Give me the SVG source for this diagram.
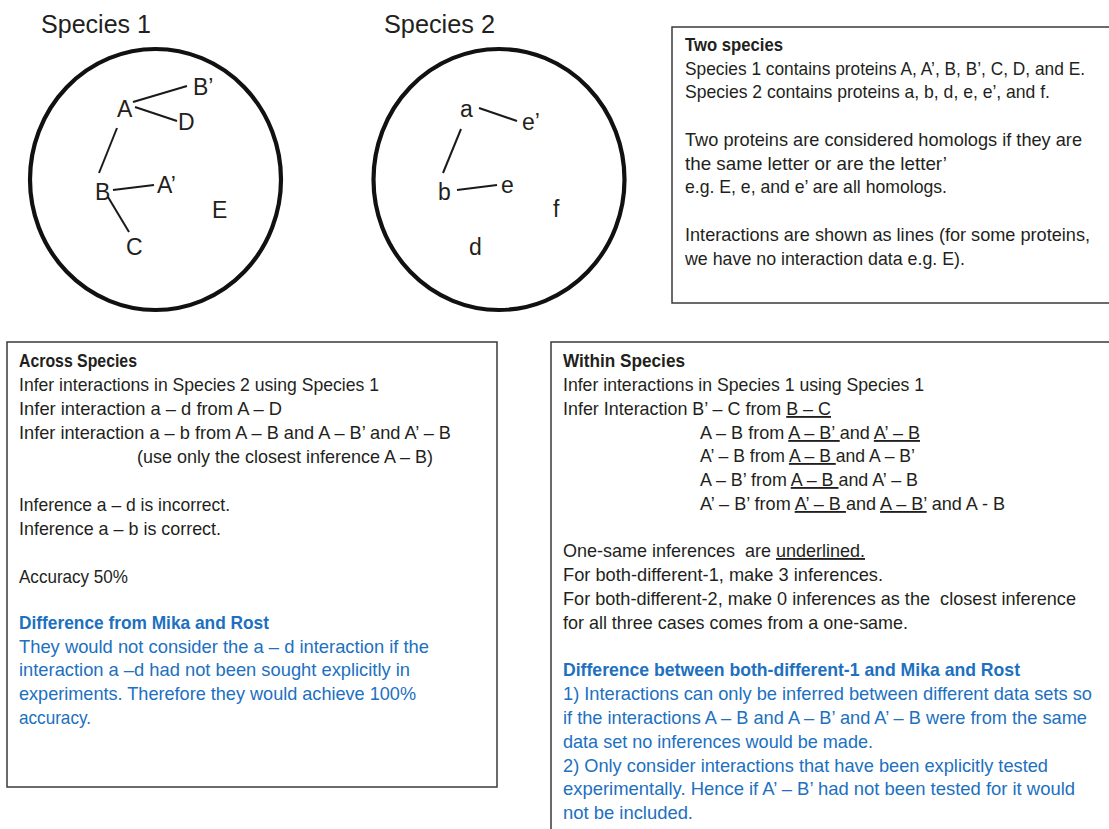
<svg xmlns="http://www.w3.org/2000/svg" width="1109" height="829" viewBox="0 0 1109 829">
<style>
  .t { font-family: "Liberation Sans", Arial, sans-serif; font-size: 18.5px; fill: #231f20; }
  .b { font-weight: bold; }
  .blue { fill: #2070bf; }
  .u { text-decoration: underline; }
  .lbl { font-family: "Liberation Sans", Arial, sans-serif; font-size: 23px; fill: #231f20; }
  .title { font-family: "Liberation Sans", Arial, sans-serif; font-size: 26px; fill: #231f20; }
  .ring { fill: none; stroke: #111; stroke-width: 4.2; }
  .edge { stroke: #1a1a1a; stroke-width: 2; fill: none; }
  .box { fill: #fff; stroke: #3a3a3a; stroke-width: 1.5; }
</style>
<rect width="1109" height="829" fill="#fff"/>

<g id="species1">
  <text class="title" x="41" y="33" textLength="110" lengthAdjust="spacingAndGlyphs">Species 1</text>
  <ellipse class="ring" cx="155.5" cy="179.5" rx="125.5" ry="130.5"/>
</g>
<g id="species2">
  <text class="title" x="384" y="33" textLength="111" lengthAdjust="spacingAndGlyphs">Species 2</text>
  <ellipse class="ring" cx="499" cy="179.5" rx="125.5" ry="130.5"/>
</g>

<g id="connectors">
  <line class="edge" x1="133" y1="102" x2="187" y2="86"/>
  <line class="edge" x1="135" y1="107" x2="177" y2="121"/>
  <line class="edge" x1="117" y1="128" x2="99" y2="173"/>
  <line class="edge" x1="113" y1="190" x2="154" y2="185"/>
  <line class="edge" x1="108" y1="197" x2="129" y2="232"/>
  <line class="edge" x1="479" y1="108" x2="517" y2="121"/>
  <line class="edge" x1="461" y1="129" x2="443" y2="173"/>
  <line class="edge" x1="457" y1="190" x2="497" y2="185"/>
</g>

<g id="node-A"><text class="lbl" x="117" y="117">A</text></g>
<g id="node-Bp"><text class="lbl" x="193" y="95">B’</text></g>
<g id="node-D"><text class="lbl" x="178" y="130">D</text></g>
<g id="node-B"><text class="lbl" x="95" y="200">B</text></g>
<g id="node-Ap"><text class="lbl" x="157" y="193">A’</text></g>
<g id="node-E"><text class="lbl" x="212" y="218">E</text></g>
<g id="node-C"><text class="lbl" x="126" y="255">C</text></g>

<g id="node-a"><text class="lbl" x="460" y="117">a</text></g>
<g id="node-ep"><text class="lbl" x="522" y="130">e’</text></g>
<g id="node-b"><text class="lbl" x="438" y="200">b</text></g>
<g id="node-e"><text class="lbl" x="501" y="193">e</text></g>
<g id="node-f"><text class="lbl" x="553" y="217">f</text></g>
<g id="node-d"><text class="lbl" x="469" y="255">d</text></g>

<g id="box-two-species">
  <rect class="box" x="672" y="27" width="500" height="276"/>
  <text class="t b" x="685" y="51" textLength="98" lengthAdjust="spacingAndGlyphs">Two species</text>
  <text class="t" x="685" y="75" textLength="400" lengthAdjust="spacingAndGlyphs">Species 1 contains proteins A, A’, B, B’, C, D, and E.</text>
  <text class="t" x="685" y="98" textLength="365" lengthAdjust="spacingAndGlyphs">Species 2 contains proteins a, b, d, e, e’, and f.</text>
  <text class="t" x="685" y="146" textLength="397" lengthAdjust="spacingAndGlyphs">Two proteins are considered homologs if they are</text>
  <text class="t" x="685" y="170" textLength="262" lengthAdjust="spacingAndGlyphs">the same letter or are the letter’</text>
  <text class="t" x="685" y="193" textLength="262" lengthAdjust="spacingAndGlyphs">e.g. E, e, and e’ are all homologs.</text>
  <text class="t" x="685" y="241" textLength="405" lengthAdjust="spacingAndGlyphs">Interactions are shown as lines (for some proteins,</text>
  <text class="t" x="685" y="265" textLength="280" lengthAdjust="spacingAndGlyphs">we have no interaction data e.g. E).</text>
</g>

<g id="box-across">
  <rect class="box" x="7" y="342" width="490" height="445"/>
  <text class="t b" x="19" y="367" textLength="118" lengthAdjust="spacingAndGlyphs">Across Species</text>
  <text class="t" x="19" y="391" textLength="360" lengthAdjust="spacingAndGlyphs">Infer interactions in Species 2 using Species 1</text>
  <text class="t" x="19" y="415" textLength="263" lengthAdjust="spacingAndGlyphs">Infer interaction a – d from A – D</text>
  <text class="t" x="19" y="439" textLength="432" lengthAdjust="spacingAndGlyphs">Infer interaction a – b from A – B and A – B’ and A’ – B</text>
  <text class="t" x="137" y="463" textLength="296" lengthAdjust="spacingAndGlyphs">(use only the closest inference A – B)</text>
  <text class="t" x="19" y="511" textLength="211" lengthAdjust="spacingAndGlyphs">Inference a – d is incorrect.</text>
  <text class="t" x="19" y="535" textLength="202" lengthAdjust="spacingAndGlyphs">Inference a – b is correct.</text>
  <text class="t" x="19" y="583" textLength="109" lengthAdjust="spacingAndGlyphs">Accuracy 50%</text>
  <text class="t b blue" x="19" y="629" textLength="250" lengthAdjust="spacingAndGlyphs">Difference from Mika and Rost</text>
  <text class="t blue" x="19" y="653" textLength="410" lengthAdjust="spacingAndGlyphs">They would not consider the a – d interaction if the</text>
  <text class="t blue" x="19" y="676" textLength="391" lengthAdjust="spacingAndGlyphs">interaction a –d had not been sought explicitly in</text>
  <text class="t blue" x="19" y="700" textLength="397" lengthAdjust="spacingAndGlyphs">experiments. Therefore they would achieve 100%</text>
  <text class="t blue" x="19" y="724" textLength="72" lengthAdjust="spacingAndGlyphs">accuracy.</text>
</g>

<g id="box-within">
  <rect class="box" x="551" y="342" width="600" height="520"/>
  <text class="t b" x="563" y="367" textLength="122" lengthAdjust="spacingAndGlyphs">Within Species</text>
  <text class="t" x="563" y="391" textLength="361" lengthAdjust="spacingAndGlyphs">Infer interactions in Species 1 using Species 1</text>
  <text class="t" x="563" y="415" textLength="268" lengthAdjust="spacingAndGlyphs" xml:space="preserve">Infer Interaction B’ – C from <tspan class="u">B – C</tspan></text>
  <text class="t" x="700" y="439" textLength="220" lengthAdjust="spacingAndGlyphs" xml:space="preserve">A – B from <tspan class="u">A – B’ </tspan>and <tspan class="u">A’ – B</tspan></text>
  <text class="t" x="700" y="462" textLength="215" lengthAdjust="spacingAndGlyphs" xml:space="preserve">A’ – B from <tspan class="u">A – B </tspan>and A – B’</text>
  <text class="t" x="700" y="486" textLength="218" lengthAdjust="spacingAndGlyphs" xml:space="preserve">A – B’ from <tspan class="u">A – B </tspan>and A’ – B</text>
  <text class="t" x="700" y="510" textLength="305" lengthAdjust="spacingAndGlyphs" xml:space="preserve">A’ – B’ from <tspan class="u">A’ – B </tspan>and <tspan class="u">A – B’</tspan> and A - B</text>
  <text class="t" x="563" y="557" textLength="302" lengthAdjust="spacingAndGlyphs" xml:space="preserve">One-same inferences  are <tspan class="u">underlined.</tspan></text>
  <text class="t" x="563" y="581" textLength="320" lengthAdjust="spacingAndGlyphs">For both-different-1, make 3 inferences.</text>
  <text class="t" x="563" y="605" textLength="513" lengthAdjust="spacingAndGlyphs" xml:space="preserve">For both-different-2, make 0 inferences as the  closest inference</text>
  <text class="t" x="563" y="629" textLength="345" lengthAdjust="spacingAndGlyphs">for all three cases comes from a one-same.</text>
  <text class="t b blue" x="563" y="676" textLength="457" lengthAdjust="spacingAndGlyphs">Difference between both-different-1 and Mika and Rost</text>
  <text class="t blue" x="563" y="700" textLength="529" lengthAdjust="spacingAndGlyphs">1) Interactions can only be inferred between different data sets so</text>
  <text class="t blue" x="563" y="724" textLength="524" lengthAdjust="spacingAndGlyphs">if the interactions A – B and A – B’ and A’ – B were from the same</text>
  <text class="t blue" x="563" y="748" textLength="310" lengthAdjust="spacingAndGlyphs">data set no inferences would be made.</text>
  <text class="t blue" x="563" y="772" textLength="485" lengthAdjust="spacingAndGlyphs">2) Only consider interactions that have been explicitly tested</text>
  <text class="t blue" x="563" y="795" textLength="512" lengthAdjust="spacingAndGlyphs">experimentally. Hence if A’ – B’ had not been tested for it would</text>
  <text class="t blue" x="563" y="819" textLength="130" lengthAdjust="spacingAndGlyphs">not be included.</text>
</g>
</svg>
